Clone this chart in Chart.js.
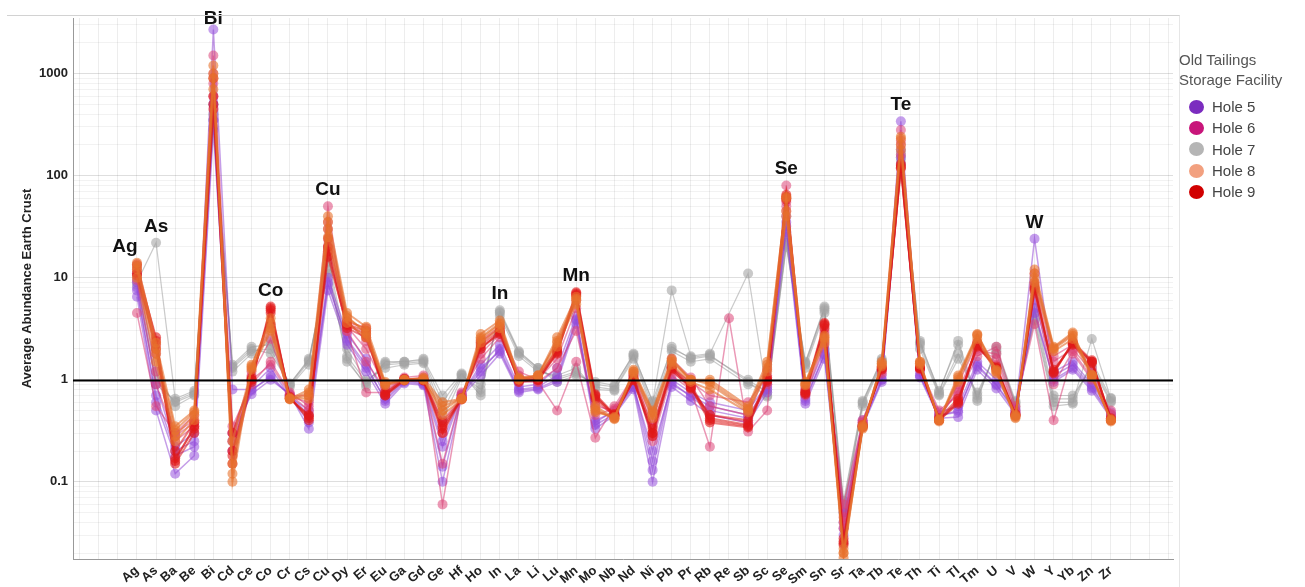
<!DOCTYPE html>
<html lang="en">
<head>
  <meta charset="UTF-8" />
  <title>Average Abundance Earth Crust - Old Tailings</title>
  <script src="https://cdn.jsdelivr.net/npm/chart.js"></script>
  <style>
    body { margin: 0; background: #fff; font-family: "Liberation Sans", Arial, sans-serif; }
    .wrap { position: relative; width: 1305px; height: 587px; }
    .frame {
      position: absolute; left: 7px; top: 15px; width: 1172px; height: 572px;
      border-top: 1px solid #d2d2d2; border-right: 1px solid #e6e6e6;
      pointer-events: none;
    }
    #legend { position: absolute; left: 1179px; top: 50px; color: #444; }
    #legend .lg-title { font-size: 15px; line-height: 20px; color: #555; margin-bottom: 6px; }
    #legend .item { display: flex; align-items: center; height: 21.3px; font-size: 15px; }
    #legend .dot { width: 15px; height: 14px; border-radius: 50%; margin: 0 8px 0 10px; }
  </style>
</head>
<body>
  <div class="wrap">
    <div class="frame"></div>
    <canvas id="chart" width="1305" height="587"></canvas>
    <div id="legend">
      <div class="lg-title">Old Tailings<br>Storage Facility</div>
    </div>
  </div>

  <script>
    // element order on the x axis
    const elements = ['Ag','As','Ba','Be','Bi','Cd','Ce','Co','Cr','Cs','Cu','Dy','Er',
      'Eu','Ga','Gd','Ge','Hf','Ho','In','La','Li','Lu','Mn','Mo','Nb',
      'Nd','Ni','Pb','Pr','Rb','Re','Sb','Sc','Se','Sm','Sn','Sr','Ta',
      'Tb','Te','Th','Ti','Tl','Tm','U','V','W','Y','Yb','Zn','Zr'];

    const yTickLabels = [0.1, 1, 10, 100, 1000];
    const refLevel = 1;
    const peakLabels = ['Ag','As','Bi','Co','Cu','In','Mn','Se','Te','W'];

    const holeNames = ['Hole 5', 'Hole 6', 'Hole 7', 'Hole 8', 'Hole 9'];

    // samples per hole, same order as elements (null = not measured)
    const hole5Samples = [
      [7.5, 0.7, 0.2, 0.25, 2700, 0.8, 0.8, 1.05, 0.7, 0.45, 8.5, 2.5, 1.4,
       0.62, 0.95, 0.9, 0.22, 0.7, 1.2, 2.0, 0.8, 0.85, 1.1, 3.8, 0.38, 0.5,
       0.85, 0.2, 0.9, 0.7, 0.55, null, 0.45, 0.85, 35, 0.62, 1.8, 0.04, 0.38,
       1.0, 340, 1.1, 0.45, 0.48, 1.4, 0.9, 0.5, 24, 1.1, 1.4, 0.85, 0.45],
      [6.5, 0.5, 0.12, 0.18, 280, 0.3, 0.72, 1.0, 0.72, 0.33, 7.5, 2.2, 1.2,
       0.58, 0.92, 0.88, 0.1, 0.68, 1.1, 1.8, 0.75, 0.8, 0.95, 3.5, 0.33, 0.45,
       0.8, 0.1, 0.85, 0.62, 0.45, null, 0.38, 0.75, 28, 0.58, 1.6, 0.03, 0.35,
       0.95, 150, 1.05, 0.42, 0.43, 1.25, 0.82, 0.46, 5, 0.95, 1.25, 0.78, 0.42],
      [9, 0.9, 0.22, 0.3, 500, 0.2, 0.85, 1.3, 0.68, 0.5, 10, 2.8, 1.6,
       0.7, 1.0, 0.95, 0.25, 0.72, 1.4, 2.2, 0.85, 0.9, 1.3, 4.2, 0.4, 0.48,
       0.9, 0.16, 1.0, 0.75, 0.6, null, 0.5, 0.9, 40, 0.7, 2.0, 0.05, 0.4,
       1.1, 180, 1.2, 0.48, 0.55, 1.5, 1.0, 0.52, 6, 1.2, 1.5, 0.9, 0.48],
      [8, 0.6, 0.18, 0.22, 350, 0.25, 0.78, 1.1, 0.7, 0.38, 9, 2.4, 1.3,
       0.65, 0.98, 0.92, 0.14, 0.7, 1.3, 1.9, 0.78, 0.82, 1.0, 3.9, 0.36, 0.46,
       0.85, 0.13, 0.95, 0.68, 0.5, null, 0.42, 0.8, 32, 0.65, 1.75, 0.035, 0.36,
       1.0, 130, 1.1, 0.44, 0.5, 1.35, 0.88, 0.48, 4.5, 1.0, 1.3, 0.82, 0.44]
    ];

    const hole6Samples = [
      [4.5, 0.55, 0.3, 0.4, 1500, 0.35, 0.9, 1.5, 0.75, 0.55, 50, 3.0, 0.75,
       0.75, 1.05, 1.1, 0.06, 0.75, 1.6, 2.6, 1.1, 0.95, 0.5, 1.5, 0.27, 0.55,
       1.1, 0.25, 1.1, 0.8, 0.22, 4, 0.31, 0.5, 80, 0.7, 2.2, 0.06, 0.4,
       1.2, 280, 1.3, 0.5, 0.7, 1.7, 2.1, 0.55, 3.5, 0.4, 1.8, 1.0, 0.5],
      [11, 1.2, 0.3, 0.45, 1000, 0.25, 1.1, 2.5, 0.7, 0.7, 30, 3.3, 2.0,
       0.85, 1.0, 1.05, 0.3, 0.7, 2.0, 3.0, 1.2, 1.0, 1.6, 5.0, 0.55, 0.5,
       1.1, 0.35, 1.3, 0.95, 0.7, null, 0.6, 1.1, 50, 0.8, 2.8, 0.04, 0.38,
       1.25, 220, 1.3, 0.42, 0.8, 2.0, 1.6, 0.48, 9, 1.5, 2.0, 1.2, 0.45],
      [13, 1.8, 0.25, 0.35, 800, 0.2, 1.2, 3.5, 0.68, 0.6, 35, 3.8, 2.4,
       0.9, 1.0, 1.0, 0.4, 0.66, 2.3, 3.2, 1.05, 1.05, 2.0, 6.0, 0.6, 0.45,
       1.15, 0.4, 1.6, 1.05, 0.55, null, 0.45, 1.25, 55, 0.85, 3.0, 0.035, 0.36,
       1.35, 200, 1.45, 0.4, 0.9, 2.3, 1.4, 0.45, 11, 1.7, 2.2, 1.3, 0.42],
      [9.5, 0.9, 0.28, 0.38, 600, 0.3, 1.0, 1.4, 0.72, 0.5, 20, 3.0, 1.5,
       0.8, 1.02, 1.0, 0.15, 0.72, 1.8, 2.8, 0.95, 0.95, 1.3, 3.0, 0.45, 0.52,
       1.0, 0.28, 1.2, 0.85, 0.45, null, 0.38, 0.9, 45, 0.75, 2.4, 0.045, 0.38,
       1.15, 160, 1.25, 0.45, 0.75, 1.9, 1.8, 0.5, 7, 0.9, 1.9, 1.05, 0.46]
    ];

    const hole7Samples = [
      [9, 22, 0.65, 0.78, 400, 1.4, 2.1, 2.2, 0.9, 1.6, 12, 1.5, 0.9,
       1.5, 1.5, 1.6, 0.7, 1.15, 0.7, 4.8, 1.9, 1.3, 1.0, 1.15, 0.9, 0.85,
       1.8, 0.6, 7.5, 1.7, 1.8, null, 11, 0.7, 20, 1.5, 5.0, 0.06, 0.6,
       1.6, 150, 2.4, 0.75, 2.4, 0.65, 2.0, 0.6, 4, 0.6, 0.6, 2.5, 0.65],
      [10, 1.0, 0.6, 0.72, 350, 1.3, 1.9, 2.0, 0.88, 1.5, 14, 1.7, 0.95,
       1.4, 1.45, 1.5, 0.5, 1.1, 0.8, 4.5, 1.8, 1.25, 1.05, 1.2, 0.85, 0.8,
       1.7, 0.55, 2.1, 1.6, 1.7, null, 1.0, 0.75, 22, 1.4, 4.8, 0.05, 0.58,
       1.5, 160, 2.2, 0.72, 1.8, 0.7, 1.9, 0.58, 4.5, 0.65, 0.65, 1.4, 0.62],
      [11, 1.2, 0.55, 0.7, 500, 1.2, 1.8, 2.4, 0.85, 1.4, 16, 2.0, 1.0,
       1.3, 1.4, 1.45, 0.4, 1.05, 0.9, 4.2, 1.7, 1.2, 1.1, 1.3, 0.8, 0.78,
       1.6, 0.5, 1.9, 1.5, 1.6, null, 0.9, 0.8, 25, 1.3, 4.5, 0.055, 0.55,
       1.45, 170, 2.0, 0.7, 1.6, 0.75, 1.8, 0.55, 5, 0.7, 0.7, 1.3, 0.6],
      [8.5, 0.9, 0.62, 0.75, 300, 1.35, 2.0, 1.8, 0.92, 1.55, 11, 1.6, 0.85,
       1.45, 1.5, 1.55, 0.6, 1.12, 0.75, 4.6, 1.85, 1.3, 0.95, 1.1, 0.95, 0.88,
       1.75, 0.62, 2.0, 1.65, 1.75, null, 0.95, 0.68, 21, 1.45, 5.2, 0.065, 0.62,
       1.55, 140, 2.3, 0.78, 2.2, 0.62, 2.1, 0.62, 3.8, 0.55, 0.58, 1.5, 0.66]
    ];

    const hole8Samples = [
      [14, 2.3, 0.35, 0.5, 1200, 0.1, 1.35, 4.0, 0.65, 0.8, 40, 4.5, 3.3,
       0.95, 1.0, 1.05, 0.6, 0.65, 2.8, 3.8, 1.05, 1.1, 2.6, 6.5, 0.55, 0.42,
       1.25, 0.5, 1.6, 1.0, 1.0, null, 0.55, 1.5, 60, 0.95, 2.6, 0.02, 0.33,
       1.5, 240, 1.5, 0.4, 1.1, 2.8, 1.25, 0.43, 12, 2.1, 2.9, 1.1, 0.4],
      [12, 1.8, 0.28, 0.45, 900, 0.15, 1.3, 3.2, 0.65, 0.7, 30, 4.0, 3.0,
       0.9, 1.0, 1.0, 0.55, 0.65, 2.5, 3.5, 1.0, 1.1, 2.3, 6.0, 0.5, 0.42,
       1.2, 0.45, 1.5, 1.0, 0.9, null, 0.5, 1.3, 40, 0.9, 2.5, 0.018, 0.35,
       1.4, 200, 1.45, 0.4, 1.0, 2.7, 1.2, 0.45, 10, 2.0, 2.7, 1.1, 0.4],
      [10, 1.5, 0.25, 0.4, 700, 0.25, 1.25, 3.0, 0.66, 0.65, 25, 3.6, 2.6,
       0.88, 0.98, 1.0, 0.5, 0.66, 2.3, 3.2, 1.0, 1.05, 2.1, 5.5, 0.48, 0.43,
       1.15, 0.42, 1.4, 0.95, 0.8, null, 0.48, 1.2, 45, 0.88, 2.3, 0.022, 0.36,
       1.35, 180, 1.4, 0.41, 0.95, 2.5, 1.15, 0.44, 9, 1.9, 2.5, 1.05, 0.41],
      [13, 2.0, 0.32, 0.48, 1000, 0.12, 1.4, 3.6, 0.64, 0.75, 35, 4.2, 2.8,
       0.92, 1.0, 1.02, 0.45, 0.64, 2.6, 3.6, 1.02, 1.1, 2.4, 6.2, 0.52, 0.41,
       1.2, 0.48, 1.55, 1.0, 0.95, null, 0.52, 1.4, 62, 0.92, 2.7, 0.02, 0.34,
       1.45, 230, 1.5, 0.39, 1.05, 2.75, 1.22, 0.42, 11, 2.05, 2.8, 1.12, 0.39]
    ];

    const hole9Samples = [
      [12, 2.6, 0.16, 0.35, 450, 0.2, 1.0, 5.2, 0.66, 0.42, 20, 3.5, 3.0,
       0.7, 1.0, 1.0, 0.35, 0.65, 2.2, 3.0, 0.95, 1.0, 1.9, 7.0, 0.7, 0.45,
       1.0, 0.3, 1.3, 0.85, 0.4, null, 0.35, 1.0, 62, 0.75, 3.5, 0.025, 0.35,
       1.3, 120, 1.3, 0.4, 0.6, 2.2, 1.3, 0.45, 8, 1.2, 2.3, 1.5, 0.4],
      [11, 2.2, 0.15, 0.3, 900, 0.15, 0.95, 5.0, 0.65, 0.45, 18, 3.2, 2.6,
       0.75, 1.0, 0.98, 0.3, 0.66, 2.1, 2.8, 1.0, 1.0, 1.8, 6.8, 0.65, 0.44,
       0.98, 0.28, 1.25, 0.82, 0.45, null, 0.4, 0.95, 58, 0.72, 3.2, 0.028, 0.36,
       1.25, 130, 1.28, 0.42, 0.65, 2.1, 1.35, 0.46, 7.5, 1.25, 2.2, 1.45, 0.42],
      [13.5, 2.4, 0.2, 0.38, 600, 0.3, 1.05, 4.5, 0.68, 0.4, 24, 3.7, 3.2,
       0.72, 1.02, 1.0, 0.38, 0.64, 2.4, 3.3, 1.0, 1.05, 2.0, 7.2, 0.72, 0.46,
       1.05, 0.33, 1.35, 0.9, 0.42, null, 0.36, 1.05, 65, 0.78, 3.6, 0.024, 0.34,
       1.32, 125, 1.32, 0.4, 0.58, 2.3, 1.3, 0.44, 8.5, 1.15, 2.35, 1.55, 0.4],
      [10.5, 2.0, 0.17, 0.33, 500, 0.18, 1.0, 4.8, 0.66, 0.44, 16, 3.4, 2.8,
       0.7, 0.98, 0.98, 0.33, 0.65, 2.0, 2.9, 0.98, 0.98, 1.85, 6.6, 0.68, 0.45,
       1.0, 0.3, 1.3, 0.84, 0.38, null, 0.34, 0.98, 60, 0.74, 3.4, 0.026, 0.35,
       1.28, 118, 1.3, 0.41, 0.62, 2.15, 1.28, 0.45, 7.8, 1.18, 2.25, 1.5, 0.41]
    ];

    // styling per hole (legend swatch + line/point colour)
    const holeStyles = {
      'Hole 5': { swatch: '#7B2CBF', line: 'rgba(140,60,210,0.5)', point: 'rgba(150,80,220,0.55)', width: 1.5 },
      'Hole 6': { swatch: '#C8157A', line: 'rgba(215,50,110,0.5)', point: 'rgba(220,70,120,0.55)', width: 1.5 },
      'Hole 7': { swatch: '#B5B5B5', line: 'rgba(150,150,150,0.5)', point: 'rgba(165,165,165,0.6)', width: 1.2 },
      'Hole 8': { swatch: '#F2A07F', line: 'rgba(228,110,45,0.6)', point: 'rgba(232,115,45,0.6)', width: 2 },
      'Hole 9': { swatch: '#D10000', line: 'rgba(220,25,25,0.55)', point: 'rgba(225,25,25,0.6)', width: 2 }
    };

    const samplesByHole = {
      'Hole 5': hole5Samples, 'Hole 6': hole6Samples, 'Hole 7': hole7Samples,
      'Hole 8': hole8Samples, 'Hole 9': hole9Samples
    };

    // first dataset is drawn on top, so orange/red go first, grey last
    const drawOrder = ['Hole 8', 'Hole 9', 'Hole 6', 'Hole 5', 'Hole 7'];
    const datasets = [];
    drawOrder.forEach(h => {
      const st = holeStyles[h];
      samplesByHole[h].forEach((row, k) => {
        datasets.push({
          label: h + ' #' + (k + 1),
          data: row.map((v, i) => ({ x: i, y: v })),
          borderColor: st.line,
          borderWidth: st.width,
          pointBackgroundColor: st.point,
          pointBorderWidth: 0,
          pointRadius: 5,
          spanGaps: true,
          tension: 0
        });
      });
    });

    // log grid lines: every 1..9 x 10^n inside the axis range
    const yMin = 0.0175, yMax = 3500;
    const gridValues = [];
    for (let e = -2; e <= 3; e++) {
      for (let m = 1; m <= 9; m++) {
        const v = Number((m * Math.pow(10, e)).toPrecision(3));
        if (v >= yMin && v <= yMax) gridValues.push(v);
      }
    }

    const fontFamily = '"Liberation Sans", Arial, sans-serif';
    const labelNudge = { Ag: -12 };

    const overlayPlugin = {
      id: 'overlay',
      afterDatasetsDraw(chart) {
        const { ctx, chartArea, scales: { x, y } } = chart;
        ctx.save();
        // reference line at average crustal abundance
        const yRef = Math.round(y.getPixelForValue(refLevel)) + 0.5;
        ctx.strokeStyle = '#000';
        ctx.lineWidth = 2;
        ctx.beginPath();
        ctx.moveTo(chartArea.left, yRef);
        ctx.lineTo(chartArea.right, yRef);
        ctx.stroke();

        // element labels above the peaks
        const all = [hole5Samples, hole6Samples, hole7Samples, hole8Samples, hole9Samples].flat();
        ctx.font = 'bold 19px ' + fontFamily;
        ctx.fillStyle = '#111';
        ctx.textAlign = 'center';
        ctx.textBaseline = 'alphabetic';
        peakLabels.forEach(el => {
          const i = elements.indexOf(el);
          const top = Math.max(...all.map(r => r[i]).filter(v => v != null));
          const px = x.getPixelForValue(i) + (labelNudge[el] || 0);
          const py = Math.max(y.getPixelForValue(top) - 11, 24);
          ctx.fillText(el, px, py);
        });
        ctx.restore();
      }
    };

    new Chart(document.getElementById('chart'), {
      type: 'line',
      data: { datasets },
      options: {
        responsive: false,
        animation: false,
        layout: { padding: { left: 0, right: 132, top: 18, bottom: 0 } },
        plugins: { legend: { display: false }, tooltip: { enabled: false } },
        scales: {
          x: {
            type: 'linear',
            min: -3.35,
            max: 54.25,
            afterBuildTicks: s => {
              const t = [];
              for (let i = -3; i <= 54; i++) t.push({ value: i });
              s.ticks = t;
            },
            afterFit: s => { s.height = 28; },
            ticks: {
              autoSkip: false,
              minRotation: 40,
              maxRotation: 40,
              padding: 4,
              color: '#222',
              font: { family: fontFamily, size: 13, weight: 'bold' },
              callback: v => elements[v] || ''
            },
            grid: { color: 'rgba(0,0,0,0.07)', drawTicks: false },
            border: { color: '#999' }
          },
          y: {
            type: 'logarithmic',
            min: yMin,
            max: yMax,
            afterBuildTicks: s => { s.ticks = gridValues.map(v => ({ value: v })); },
            afterFit: s => { s.width = 73; },
            ticks: {
              autoSkip: false,
              padding: 5,
              color: '#222',
              font: { family: fontFamily, size: 13, weight: 'bold' },
              callback: v => yTickLabels.includes(v) ? String(v) : ''
            },
            grid: {
              drawTicks: false,
              color: c => yTickLabels.includes(c.tick.value) ? 'rgba(0,0,0,0.13)' : 'rgba(0,0,0,0.05)'
            },
            border: { color: '#999' },
            title: {
              display: true,
              text: 'Average Abundance Earth Crust',
              color: '#222',
              font: { family: fontFamily, size: 13, weight: 'bold' },
              padding: { top: 20, bottom: 0 }
            }
          }
        }
      },
      plugins: [overlayPlugin]
    });

    // legend (one entry per hole)
    const legend = document.getElementById('legend');
    holeNames.forEach(h => {
      const item = document.createElement('div');
      item.className = 'item';
      const dot = document.createElement('span');
      dot.className = 'dot';
      dot.style.background = holeStyles[h].swatch;
      item.appendChild(dot);
      item.appendChild(document.createTextNode(h));
      legend.appendChild(item);
    });
  </script>
</body>
</html>
